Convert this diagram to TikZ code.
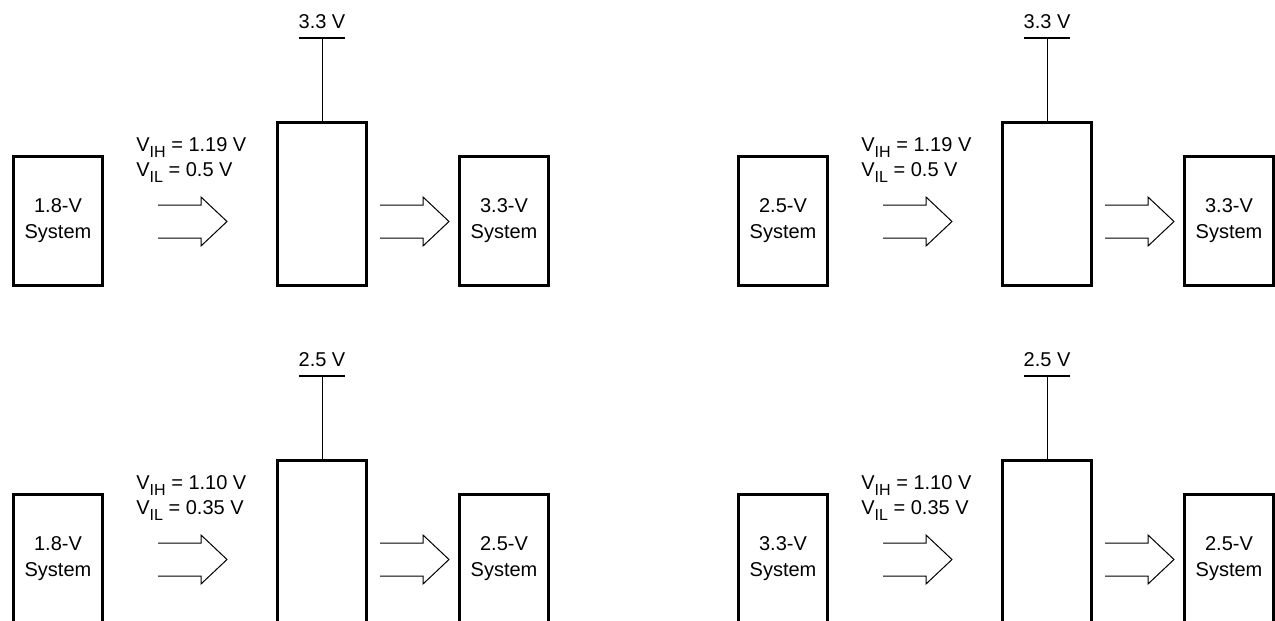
\documentclass[tikz,border=0pt]{standalone}
\usepackage{fontspec}
\setmainfont{Liberation Sans}
\newcommand{\lvsub}[1]{\raisebox{-3pt}{\fontsize{8}{8}\selectfont #1}}

\tikzset{
  sysbox/.style={draw=black, line width=1.5pt, minimum width=44.5pt,
    minimum height=64.5pt, inner sep=0pt, align=center,
    font=\fontsize{10}{13}\selectfont},
  shiftbox/.style={draw=black, line width=1.5pt, minimum width=44.5pt,
    minimum height=81.5pt, inner sep=0pt},
  railbar/.style={line width=0.6pt},
  railwire/.style={line width=0.5pt},
  busarrow/.style={line width=0.5pt, line join=miter},
  level/.style={anchor=base west, inner sep=0pt, font=\fontsize{10}{12}\selectfont},
  railtext/.style={anchor=base, inner sep=0pt, font=\fontsize{10}{12}\selectfont}
}

\begin{document}
\begin{tikzpicture}[x=0.5pt,y=-0.5pt]
    \useasboundingbox (0,0) rectangle (1275,621);
    \clip (0,0) rectangle (1275,621);
    % 1.8 V -> 3.3 V
	\node[sysbox] (src1) at (58,221)    {1.8-V\\System};
	\node[shiftbox] (ls1) at (322,204)  {};
	\node[sysbox] (dst1) at (504,221)   {3.3-V\\System};
	\node[railtext] (vl1) at (322,28)   {3.3 V};
	\node[level] (vih1) at (136,151)    {V\lvsub{IH} = 1.19 V};
	\node[level] (vil1) at (136,176)    {V\lvsub{IL} = 0.5 V};
	\coordinate (vdd1) at (322,38);
	\coordinate (in1) at (158,205);
	\coordinate (out1) at (380,205);
    % 2.5 V -> 3.3 V
	\node[sysbox] (src2) at (783,221)   {2.5-V\\System};
	\node[shiftbox] (ls2) at (1047,204) {};
	\node[sysbox] (dst2) at (1229,221)  {3.3-V\\System};
	\node[railtext] (vl2) at (1047,28)  {3.3 V};
	\node[level] (vih2) at (861,151)    {V\lvsub{IH} = 1.19 V};
	\node[level] (vil2) at (861,176)    {V\lvsub{IL} = 0.5 V};
	\coordinate (vdd2) at (1047,38);
	\coordinate (in2) at (883,205);
	\coordinate (out2) at (1105,205);
    % 1.8 V -> 2.5 V
	\node[sysbox] (src3) at (58,559)    {1.8-V\\System};
	\node[shiftbox] (ls3) at (322,542)  {};
	\node[sysbox] (dst3) at (504,559)   {2.5-V\\System};
	\node[railtext] (vl3) at (322,366)  {2.5 V};
	\node[level] (vih3) at (136,489)    {V\lvsub{IH} = 1.10 V};
	\node[level] (vil3) at (136,514)    {V\lvsub{IL} = 0.35 V};
	\coordinate (vdd3) at (322,376);
	\coordinate (in3) at (158,543);
	\coordinate (out3) at (380,543);
    % 3.3 V -> 2.5 V
	\node[sysbox] (src4) at (783,559)   {3.3-V\\System};
	\node[shiftbox] (ls4) at (1047,542) {};
	\node[sysbox] (dst4) at (1229,559)  {2.5-V\\System};
	\node[railtext] (vl4) at (1047,366) {2.5 V};
	\node[level] (vih4) at (861,489)    {V\lvsub{IH} = 1.10 V};
	\node[level] (vil4) at (861,514)    {V\lvsub{IL} = 0.35 V};
	\coordinate (vdd4) at (1047,376);
	\coordinate (in4) at (883,543);
	\coordinate (out4) at (1105,543);
    % supply rails
    \foreach \n in {1,2,3,4} {
        \draw[railbar] ([xshift=-11.5pt]vdd\n) -- ([xshift=11.5pt]vdd\n);
        \draw[railwire] (vdd\n) -- (ls\n.north);
    }
    % bus arrows
    \foreach \p in {in1,out1,in2,out2,in3,out3,in4,out4}
        \draw[busarrow] (\p) -- ++(43,0) -- ++(0,-8) -- ++(26,24.5)
            -- ++(-26,24.5) -- ++(0,-8) -- ++(-43,0);
\end{tikzpicture}
\end{document}
